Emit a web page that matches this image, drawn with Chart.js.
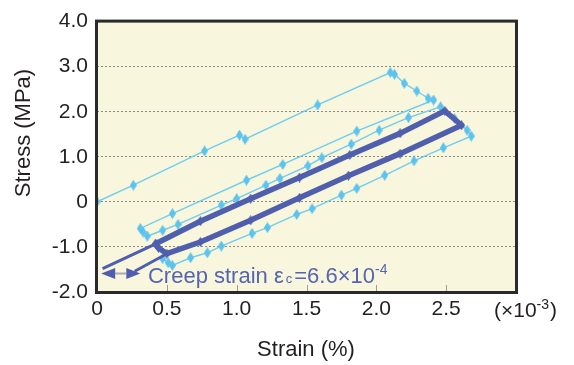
<!DOCTYPE html>
<html><head><meta charset="utf-8">
<script src="https://cdn.jsdelivr.net/npm/chart.js@4/dist/chart.umd.min.js"></script>
<style>html,body{margin:0;padding:0;background:#fff}#wrap{width:574px;height:365px}</style>
</head><body><div id="wrap"><canvas id="c" width="574" height="365"></canvas></div>
<script>
// ---- data (strain in x10^-3 %, stress in MPa) ----
const xTickValues = [0, 0.5, 1.0, 1.5, 2.0, 2.5, 3.0];
const xTickLabels = ['0', '0.5', '1.0', '1.5', '2.0', '2.5', ''];
const yTickValues = [-2, -1, 0, 1, 2, 3, 4];
const yTickLabels = ['-2.0', '-1.0', '0', '1.0', '2.0', '3.0', '4.0'];

const outerStrain = [0, 0.26, 0.77, 1.02, 1.06, 1.58, 2.10,
  2.13, 2.20, 2.29, 2.37, 2.41,
  1.86, 1.33, 1.07, 0.54, 0.31, 0.33,
  0.36,
  0.47, 0.58, 0.89, 1.00, 1.21, 1.31, 1.51, 1.61, 1.82, 2.02, 2.23, 2.46,
  2.56, 2.65, 2.68,
  2.48, 2.27, 2.06, 1.86, 1.75, 1.54, 1.43, 1.22, 1.11, 0.89, 0.79, 0.67, 0.54,
  0.51, 0.47];
const outerStress = [0, 0.37, 1.13, 1.48, 1.39, 2.15, 2.87,
  2.83, 2.63, 2.46, 2.30, 2.26,
  1.57, 0.83, 0.48, -0.26, -0.59, -0.67,
  -0.76,
  -0.63, -0.50, -0.07, 0.07, 0.37, 0.52, 0.80, 0.98, 1.28, 1.59, 1.87, 2.11,
  1.85, 1.59, 1.46,
  1.20, 0.91, 0.59, 0.30, 0.15, -0.15, -0.28, -0.57, -0.70, -0.98, -1.13, -1.24, -1.41,
  -1.35, -1.26];

const innerStrain = [0.42, 0.74, 1.10, 1.45, 1.81, 2.17, 2.49, 2.61,
  2.17, 1.80, 1.45, 1.10, 0.74, 0.50, 0.44, 0.42];
const innerStress = [-0.93, -0.43, 0.07, 0.54, 1.04, 1.52, 2.02, 1.70,
  1.07, 0.58, 0.09, -0.41, -0.89, -1.15, -1.02, -0.93];

const guideAStrain = [0.42, 0.04];
const guideAStress = [-0.93, -1.48];
const guideBStrain = [0.50, 0.27];
const guideBStress = [-1.15, -1.54];

const creepArrowStrain = [0.03, 0.31];
const creepArrowStress = [-1.59, -1.59];

const creepText = ['Creep strain ε', 'c', '=6.6×10', '-4'];
const unitText = ['(×10', '-3', ')'];

// ---- helpers ----
const pts = (xs, ys) => xs.map((x, i) => ({x: x, y: ys[i]}));
const FONT = '"Liberation Sans", Arial, sans-serif';
const LIGHT = '#6fcdf0';
const LIGHT_PT = '#5cc3ee';
const DARK = '#4f5fae';
const TEXTBLUE = '#5565b1';
const INK = '#231f20';

function diamond(w, h, color) {
  const cv = document.createElement('canvas');
  cv.width = w; cv.height = h;
  const c = cv.getContext('2d');
  c.fillStyle = color;
  c.beginPath();
  c.moveTo(w / 2, 0); c.lineTo(w, h / 2); c.lineTo(w / 2, h); c.lineTo(0, h / 2);
  c.closePath(); c.fill();
  return cv;
}
const lightMarker = diamond(7, 11, LIGHT_PT);
const darkMarker = diamond(7, 10, DARK);

const deco = {
  id: 'deco',
  beforeDraw(chart) {
    const {ctx, chartArea: a} = chart;
    ctx.save();
    ctx.fillStyle = '#f8f6dc';
    ctx.fillRect(a.left, a.top, a.right - a.left, a.bottom - a.top);
    ctx.restore();
  },
  afterDraw(chart) {
    const {ctx, chartArea: a, scales: {x, y}} = chart;
    ctx.save();
    // inside tick marks on x
    ctx.strokeStyle = '#9a9a9a';
    ctx.lineWidth = 1;
    xTickValues.slice(1, -1).forEach(v => {
      const px = Math.round(x.getPixelForValue(v)) + 0.5;
      ctx.beginPath(); ctx.moveTo(px, a.bottom); ctx.lineTo(px, a.bottom - 7); ctx.stroke();
    });
    // frame
    ctx.strokeStyle = '#2b2a2a';
    ctx.lineWidth = 3;
    ctx.strokeRect(a.left - 0.5, a.top - 0.5, a.right - a.left + 1, a.bottom - a.top + 1);

    // creep double arrow
    const ay = y.getPixelForValue(creepArrowStress[0]);
    const lx = x.getPixelForValue(creepArrowStrain[0]);
    const rx = x.getPixelForValue(creepArrowStrain[1]);
    const hl = 14, hh = 5.5;
    ctx.strokeStyle = '#a9a9b8';
    ctx.lineWidth = 2;
    ctx.beginPath(); ctx.moveTo(lx + hl, ay); ctx.lineTo(rx - hl, ay); ctx.stroke();
    ctx.fillStyle = DARK;
    ctx.beginPath(); ctx.moveTo(lx, ay); ctx.lineTo(lx + hl, ay - hh); ctx.lineTo(lx + hl, ay + hh); ctx.closePath(); ctx.fill();
    ctx.beginPath(); ctx.moveTo(rx, ay); ctx.lineTo(rx - hl, ay - hh); ctx.lineTo(rx - hl, ay + hh); ctx.closePath(); ctx.fill();

    // creep text
    let tx = x.getPixelForValue(0.365);
    const tb = y.getPixelForValue(-1.80);
    ctx.fillStyle = TEXTBLUE;
    ctx.textBaseline = 'alphabetic';
    ctx.textAlign = 'left';
    ctx.font = '22px ' + FONT;
    ctx.fillText(creepText[0], tx, tb); tx += ctx.measureText(creepText[0]).width + 2;
    ctx.font = '13px ' + FONT;
    ctx.fillText(creepText[1], tx, tb); tx += ctx.measureText(creepText[1]).width + 2;
    ctx.font = '22px ' + FONT;
    ctx.fillText(creepText[2], tx, tb); tx += ctx.measureText(creepText[2]).width;
    ctx.font = '14px ' + FONT;
    ctx.fillText(creepText[3], tx, tb - 9);

    // unit label
    ctx.fillStyle = INK;
    let ux = 494;
    const ub = 317;
    ctx.font = '21px ' + FONT;
    ctx.fillText(unitText[0], ux, ub); ux += ctx.measureText(unitText[0]).width;
    ctx.font = '14px ' + FONT;
    ctx.fillText(unitText[1], ux, ub - 8); ux += ctx.measureText(unitText[1]).width + 1;
    ctx.font = '21px ' + FONT;
    ctx.fillText(unitText[2], ux, ub);

    // axis titles
    ctx.font = '22px ' + FONT;
    ctx.textAlign = 'center';
    ctx.textBaseline = 'middle';
    ctx.fillText('Strain (%)', 306, 350);
    ctx.translate(24, 133);
    ctx.rotate(-Math.PI / 2);
    ctx.fillText('Stress (MPa)', 0, 0);
    ctx.restore();
  }
};

new Chart(document.getElementById('c'), {
  type: 'scatter',
  data: {
    datasets: [
      {
        data: pts(guideAStrain, guideAStress), showLine: true, borderColor: DARK, borderWidth: 3,
        pointRadius: 0, order: 1
      },
      {
        data: pts(guideBStrain, guideBStress), showLine: true, borderColor: DARK, borderWidth: 3,
        pointRadius: 0, order: 1
      },
      {
        data: pts(innerStrain, innerStress), showLine: true, borderColor: DARK, borderWidth: 5.5,
        pointStyle: darkMarker, pointRadius: 4,
        borderJoinStyle: 'round', order: 1
      },
      {
        data: pts(outerStrain, outerStress), showLine: true, borderColor: LIGHT, borderWidth: 1.4,
        pointStyle: lightMarker, pointRadius: 4,
        order: 2
      }
    ]
  },
  options: {
    responsive: false,
    animation: false,
    devicePixelRatio: 1,
    layout: {padding: {left: 0, right: 58, top: 16, bottom: 0}},
    plugins: {legend: {display: false}, tooltip: {enabled: false}},
    scales: {
      x: {
        type: 'linear', min: 0, max: 3,
        afterBuildTicks: s => { s.ticks = xTickValues.map(v => ({value: v})); },
        afterFit: s => { s.height = 73; },
        ticks: {
          callback: v => { const i = xTickValues.indexOf(v); return i >= 0 ? xTickLabels[i] : ''; },
          font: {family: FONT, size: 21}, color: INK, padding: 5, maxRotation: 0, autoSkip: false
        },
        grid: {display: false, drawTicks: false},
        border: {display: false}
      },
      y: {
        type: 'linear', min: -2, max: 4,
        afterBuildTicks: s => { s.ticks = yTickValues.map(v => ({value: v})); },
        afterFit: s => { s.width = 97; },
        ticks: {
          callback: v => { const i = yTickValues.indexOf(v); return i >= 0 ? yTickLabels[i] : ''; },
          font: {family: FONT, size: 21}, color: INK, padding: 9, autoSkip: false
        },
        grid: {color: '#8c8c86', lineWidth: 1, drawTicks: false},
        border: {display: false, dash: [2, 2]}
      }
    }
  },
  plugins: [deco]
});
</script>
</body></html>
